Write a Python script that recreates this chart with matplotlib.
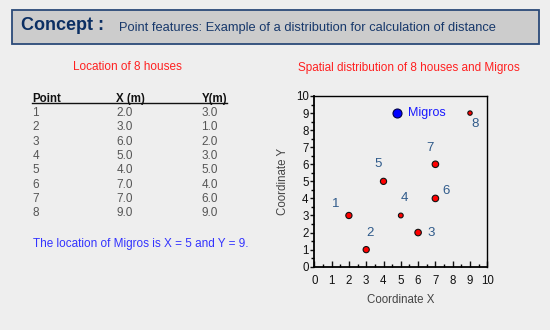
import matplotlib
matplotlib.use("Agg")
import matplotlib.pyplot as plt
from matplotlib.patches import Rectangle
from matplotlib.lines import Line2D
from matplotlib.ticker import MultipleLocator

plt.rcParams['font.family'] = ['Liberation Sans', 'DejaVu Sans']

# ---- data ----
points = [1, 2, 3, 4, 5, 6, 7, 8]
xs = [2.0, 3.0, 6.0, 5.0, 4.0, 7.0, 7.0, 9.0]
ys = [3.0, 1.0, 2.0, 3.0, 5.0, 4.0, 6.0, 9.0]
migros_x = 5
migros_y = 9
header = ["Point", "X (m)", "Y(m)"]
axis_ticks = [0, 1, 2, 3, 4, 5, 6, 7, 8, 9, 10]

# ---- styles ----
W, H = 550, 330
BG = '#eeeeee'
marker_sizes = [20, 20, 22, 12, 20, 22, 22, 10]
label_offsets = [(-9.5, 8.6), (2.5, 12.3), (9.3, -0.6), (2.9, 12.3),
                 (-3.7, 12.3), (8.0, 5.3), (-4.0, 11.4), (3.4, -8.1)]
migros_plot_x = 4.8  # drawn slightly left of 5 in the reference

fig = plt.figure(figsize=(W / 100, H / 100), dpi=100, facecolor=BG)


def fx(px):
    return px / W


def fy(py):
    return 1 - py / H


# header box
fig.patches.append(Rectangle((fx(11.5), fy(44)), fx(539) - fx(11.5), fy(9.5) - fy(44),
                             transform=fig.transFigure, facecolor='#cccccc',
                             edgecolor='#2b4a78', linewidth=1.3, zorder=0))
fig.text(fx(21), fy(25), "Concept :", fontsize=13, fontweight='bold',
         color='#0b2f63', va='center', ha='left')
fig.text(fx(119), fy(28.5), "Point features: Example of a distribution for calculation of distance",
         fontsize=9.3, color='#17386b', va='center', ha='left')

# table
fig.text(fx(127), fy(66.5), "Location of 8 houses", fontsize=8.5, color='#ff2020',
         ha='center', va='center')
col_x = [32.5, 116.5, 201.5]
for cx, h in zip(col_x, header):
    fig.text(fx(cx), fy(102), h, fontsize=8.3, fontweight='bold', color='#111111',
             ha='left', va='baseline')
fig.lines.append(Line2D([fx(32), fx(227)], [fy(103), fy(103)], transform=fig.transFigure,
                        color='#111111', linewidth=1.0))
for i, (p, x, y) in enumerate(zip(points, xs, ys)):
    ry = 116 + i * 14.3
    for cx, val in zip(col_x, [str(p), f"{x:.1f}", f"{y:.1f}"]):
        fig.text(fx(cx), fy(ry), val, fontsize=8.5, color='#555555', ha='left', va='baseline')

fig.text(fx(33), fy(243.5), f"The location of Migros is X = {migros_x} and Y = {migros_y}.",
         fontsize=8.5, color='#3333ff', ha='left', va='center')

# scatter title
fig.text(fx(408.5), fy(68.5), "Spatial distribution of 8 houses and Migros",
         fontsize=8.5, color='#ff2020', ha='center', va='center')

# axes
ax = fig.add_axes([fx(314.3), fy(266.7), fx(487.3) - fx(314.3), fy(96) - fy(266.7)])
ax.set_facecolor(BG)
ax.set_xlim(0, 10)
ax.set_ylim(0, 10)
ax.set_xticks(axis_ticks)
ax.set_yticks(axis_ticks)
ax.xaxis.set_minor_locator(MultipleLocator(0.5))
ax.yaxis.set_minor_locator(MultipleLocator(0.5))
ax.tick_params(axis='x', which='major', direction='in', length=4, width=1,
               labelsize=8.3, pad=6, colors='#111111')
ax.tick_params(axis='x', which='minor', direction='in', length=2, width=1)
ax.tick_params(axis='y', which='major', direction='out', length=3, width=1,
               labelsize=8.3, pad=1, colors='#111111')
ax.tick_params(axis='y', which='minor', direction='out', length=2, width=1)
for s in ['left', 'bottom']:
    ax.spines[s].set_linewidth(1.3)
for s in ['top', 'right']:
    ax.spines[s].set_linewidth(1.0)
ax.set_xlabel("Coordinate X", fontsize=8.3, color='#444444', labelpad=5)
ax.set_ylabel("Coordinate Y", fontsize=8.3, color='#444444', labelpad=5)

ax.scatter(xs, ys, s=marker_sizes, color='#ff0000', edgecolor='#111111',
           linewidth=0.8, zorder=3, clip_on=False)
for p, x, y, off in zip(points, xs, ys, label_offsets):
    ax.annotate(str(p), (x, y), xytext=off, textcoords='offset points',
                fontsize=9.5, color='#2f5a8a', ha='center', va='center')

ax.scatter([migros_plot_x], [migros_y], s=42, color='#0000ff', edgecolor='#000044',
           linewidth=0.8, zorder=3)
ax.annotate("Migros", (migros_plot_x, migros_y), xytext=(8, 0), textcoords='offset points',
            fontsize=9, color='#1a1aff', ha='left', va='center')

fig.savefig("out.png", dpi=100, facecolor=BG)
